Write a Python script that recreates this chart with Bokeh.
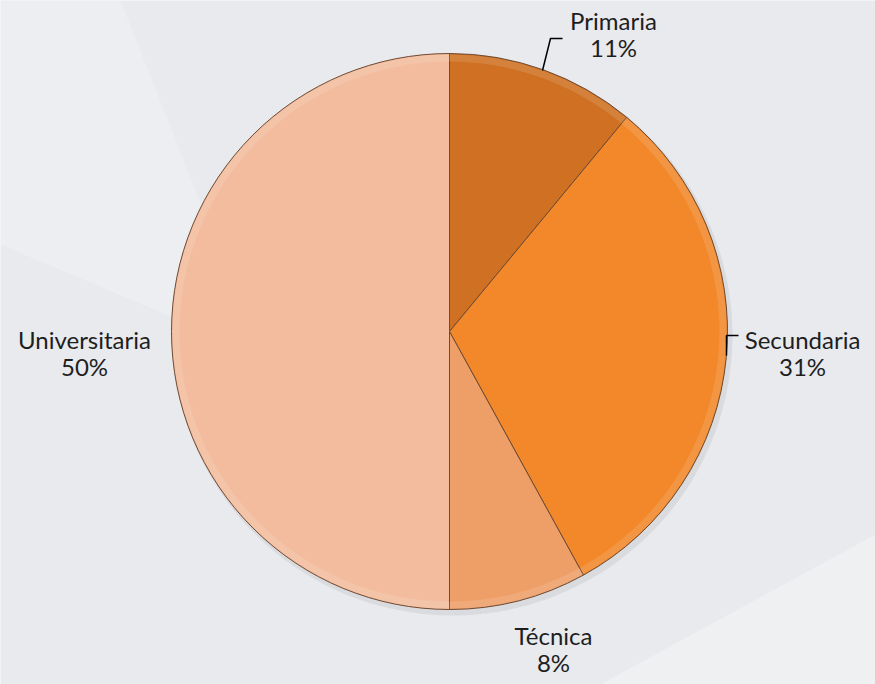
import math
from bokeh.plotting import figure
from bokeh.models import ColumnDataSource, Range1d
from bokeh.core.properties import value
from bokeh.embed import file_html
from bokeh.resources import INLINE

# ---- data ----
categories = ["Primaria", "Secundaria", "Técnica", "Universitaria"]
shares = [11, 31, 8, 50]
pct_labels = ["11%", "31%", "8%", "50%"]

# ---- styles / layout ----
colors = ["#cf7022", "#f2882a", "#ee9e67", "#f3bc9e"]
W, H = 875, 684
CX, CY, R = 449, 353, 278
# label anchor (centre of the two-line block), in screen px
label_pos = [(613, 33), (802, 352), (553, 648), (84, 352)]
BG = "#e8eaee"

p = figure(width=W, height=H, output_backend="svg", toolbar_location=None,
           x_range=Range1d(0, W), y_range=Range1d(0, H), min_border=0)
p.axis.visible = False
p.grid.visible = False
p.outline_line_color = None
p.background_fill_color = BG
p.border_fill_color = BG

# subtle lighter background bands (decoration)
p.patch([0, 0, 260, 120], [684, 440, 330, 684], fill_color="#eceef1", line_color=None)
p.patch([600, 875, 875], [0, 150, 0], fill_color="#eff0f2", line_color=None)

total = float(sum(shares))
starts, ends = [], []
cum = 0.0
for v in shares:
    a0 = math.pi / 2 - 2 * math.pi * cum / total
    cum += v
    a1 = math.pi / 2 - 2 * math.pi * cum / total
    starts.append(a0)
    ends.append(a1)

src = ColumnDataSource(dict(cat=categories, share=shares, start=starts, end=ends,
                            color=colors))
# soft shadow
p.wedge(x=CX + 3, y=CY - 4, radius=R + 2, start_angle="start", end_angle="end",
        direction="clock", fill_color="#b8b8bc", fill_alpha=0.3, line_color=None,
        source=src)
p.wedge(x=CX, y=CY, radius=R, start_angle="start", end_angle="end",
        direction="clock", fill_color="color", line_color="#6e4a32", line_width=1,
        source=src)
# bevel highlight ring
p.annular_wedge(x=CX, y=CY, inner_radius=R - 8, outer_radius=R - 1,
                start_angle="start", end_angle="end", direction="clock",
                fill_color="white", fill_alpha=0.12, line_color=None, source=src)

# labels
lx = [q[0] for q in label_pos]
ly = [H - q[1] for q in label_pos]
lab = ColumnDataSource(dict(x=lx, y1=[y + 13 for y in ly], y2=[y - 14 for y in ly],
                            name=categories, pct=pct_labels))
for col, yy in (("name", "y1"), ("pct", "y2")):
    p.text(x="x", y=yy, text=col, source=lab, text_align="center",
           text_baseline="middle", text_font=value("Lato"), text_font_size="24px",
           text_color="#1e1e1e")

# leader lines
p.line([542, 550, 562], [H - 70, H - 38, H - 38], line_color="black", line_width=1.5)
p.line([726, 726, 738], [H - 355, H - 335, H - 335], line_color="black", line_width=1.5)

html = file_html(p, INLINE)
html = html.replace("<body>", '<body style="background:%s">' % BG, 1)
open("out.html", "w").write(html)
